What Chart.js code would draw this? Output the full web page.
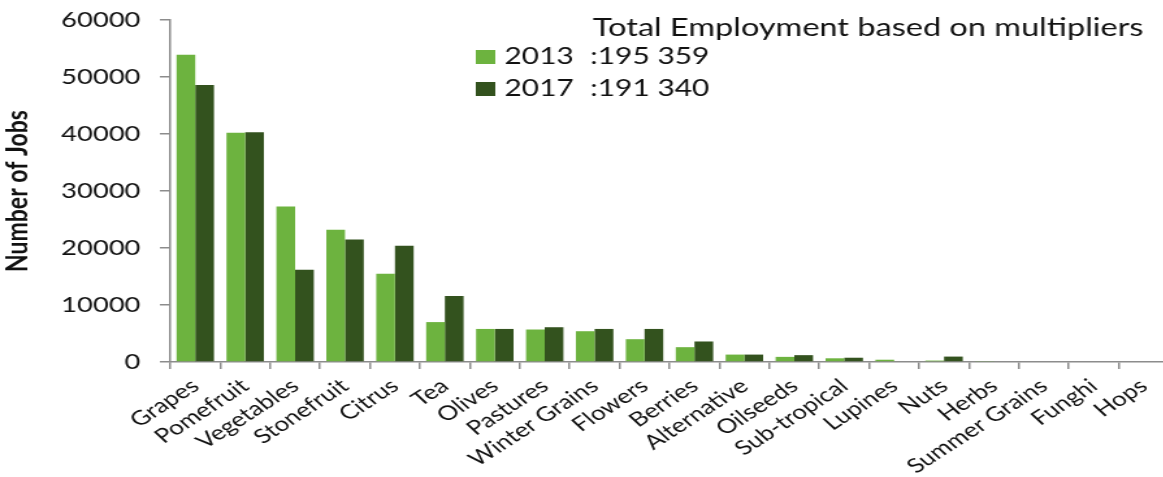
<!DOCTYPE html>
<html>
<head>
<meta charset="utf-8">
<script src="https://cdn.jsdelivr.net/npm/chart.js@4.4.0/dist/chart.umd.min.js"></script>
<style>
  html, body { margin: 0; padding: 0; background: #fff; overflow: hidden; }
  /* chart is laid out narrow and widened, like the original export */
  #wrap { width: 920px; height: 477px; transform: scaleX(1.3); transform-origin: 0 0; }
</style>
</head>
<body>
<div id="wrap"><canvas id="jobsChart" width="920" height="477"></canvas></div>

<script>
var crops = ["Grapes", "Pomefruit", "Vegetables", "Stonefruit", "Citrus", "Tea", "Olives", "Pastures",
             "Winter Grains", "Flowers", "Berries", "Alternative", "Oilseeds", "Sub-tropical", "Lupines",
             "Nuts", "Herbs", "Summer Grains", "Funghi", "Hops"];
var jobs2013 = [53900, 40200, 27300, 23200, 15500, 7000, 5800, 5700, 5400, 4000,
                2600, 1300, 900, 650, 400, 250, 100, 0, 0, 0];
var jobs2017 = [48600, 40300, 16200, 21500, 20400, 11600, 5800, 6100, 5800, 5800,
                3600, 1300, 1200, 750, 0, 950, 0, 0, 0, 0];
var years = ["2013", "2017"];
var totals = [":195 359", ":191 340"];
var legendTitle = "Total Employment based on multipliers";

var colours = ["#6db33f", "#33521e"];
var axisGrey = "#8c8c8c";
var font = "Lato";

// legend block in the top right: title, swatches and totals
var totalsLegend = {
  id: 'totalsLegend',
  afterDraw: function(chart) {
    var ctx = chart.ctx;
    ctx.save();
    ctx.fillStyle = "#111";
    ctx.textBaseline = "alphabetic";
    ctx.font = "25px " + font;
    ctx.fillText(legendTitle, 456, 36);
    ctx.font = "23px " + font;
    chart.data.datasets.forEach(function(ds, i) {
      var y = 64 + i * 32;
      ctx.fillStyle = ds.backgroundColor;
      ctx.fillRect(366, y - 14, 15, 14);
      ctx.fillStyle = "#111";
      ctx.fillText(ds.label, 388, y);
      ctx.fillText(totals[i], 454, y);
    });
    ctx.restore();
  }
};

new Chart(document.getElementById("jobsChart").getContext("2d"), {
  type: 'bar',
  data: {
    labels: crops,
    datasets: [{
      label: years[0],
      data: jobs2013,
      backgroundColor: colours[0]
    }, {
      label: years[1],
      data: jobs2017,
      backgroundColor: colours[1]
    }]
  },
  options: {
    responsive: false,
    animation: false,
    layout: { padding: { top: 20, left: 0, right: 21, bottom: 0 } },
    categoryPercentage: 0.75,
    barPercentage: 1.0,
    plugins: {
      legend: { display: false },
      tooltip: { enabled: false }
    },
    scales: {
      x: {
        grid: { offset: true, drawOnChartArea: false, color: axisGrey, lineWidth: 1.5, tickLength: 7 },
        border: { color: axisGrey, width: 1.5 },
        ticks: {
          color: "#111",
          font: { family: font, size: 20 },
          minRotation: 40,
          maxRotation: 40,
          autoSkip: false,
          padding: 5
        },
        afterFit: function(scale) { scale.height = 115; }
      },
      y: {
        min: 0,
        max: 60000,
        grid: { drawOnChartArea: false, color: axisGrey, lineWidth: 1.5, tickLength: 8 },
        border: { color: axisGrey, width: 1.5 },
        ticks: {
          stepSize: 10000,
          color: "#111",
          font: { family: font, size: 21 },
          padding: 15,
          callback: function(v) { return String(v); }
        },
        title: {
          display: true,
          text: "Number of Jobs",
          color: "#111",
          font: { family: font, size: 23, weight: 'bold' },
          padding: { top: 0, bottom: 0 }
        },
        afterFit: function(scale) {
          scale.width = 131;
          scale.paddingTop = 0;
          scale.paddingBottom = 0;
        }
      }
    }
  },
  plugins: [totalsLegend]
});
</script>
</body>
</html>
